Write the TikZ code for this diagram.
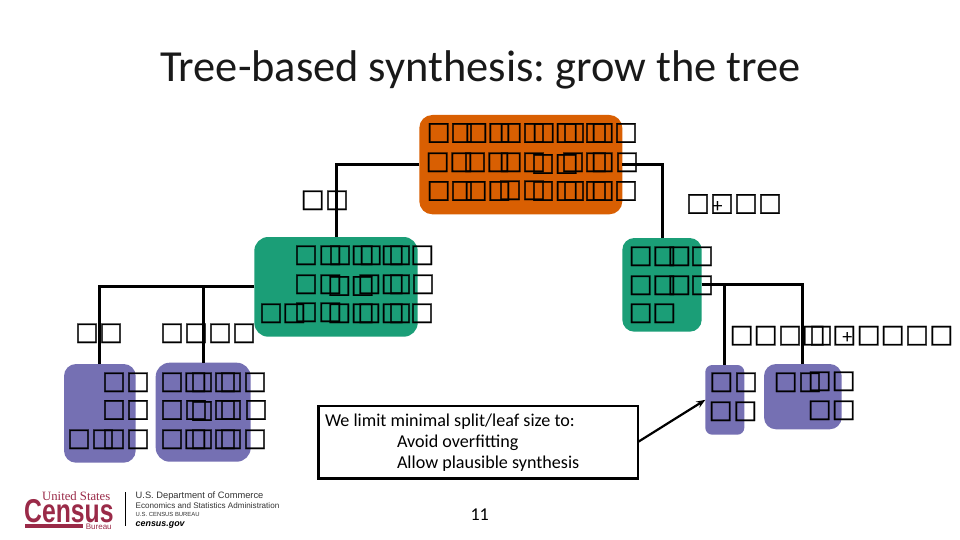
\documentclass[tikz,border=0pt]{standalone}
\usepackage{fontspec}
\usetikzlibrary{arrows.meta}
\setmainfont{Carlito}
\newfontfamily\tofufont[FakeBold=1]{DejaVu Sans}
\newfontfamily\logoserif{Liberation Serif}
\newfontfamily\logosans{Liberation Sans}
\definecolor{orangeN}{HTML}{D95F02}
\definecolor{greenN}{HTML}{1B9E77}
\definecolor{purpleN}{HTML}{7570B3}
\definecolor{censusred}{HTML}{9A2A48}
\definecolor{censusgray}{HTML}{333333}
\frenchspacing
\tikzset{
  x=1pt,y=-1pt,
  treebox/.style={rectangle,inner sep=0pt,outer sep=0pt,draw=none},
  link/.style={draw=black,line width=3pt},
  tofu/.style={inner sep=0pt,outer sep=0pt,font=\tofufont\fontsize{25.5}{25.5}\selectfont},
  plusmark/.style={inner sep=0pt,outer sep=0pt,font=\fontsize{20}{20}\selectfont},
  plain/.style={inner sep=0pt,outer sep=0pt,anchor=base west,text=black},
  notetext/.style={plain,font=\fontsize{18.1}{18.1}\selectfont},
  logoline/.style={inner sep=0pt,outer sep=0pt,anchor=base west,text=censusgray},
}
\newcommand{\tofurow}[2]{\foreach \cx/\cy [count=\ci] in {#2} {\node[tofu] (#1\ci) at (\cx,\cy) {□};}}
\begin{document}
\begin{tikzpicture}
\useasboundingbox (0,0) rectangle (960,540);
\fill[white] (0,0) rectangle (960,540);
\node[plain,text=black!90,font=\fontsize{44.4}{44.4}\selectfont] (title) at (160,82) {Tree-based synthesis: grow the tree};
% boxes
\node[treebox,fill=orangeN,rounded corners=13pt,minimum width=203pt,minimum height=99.3pt] (root) at (520.8,164.65) {};
\node[treebox,fill=greenN,rounded corners=14pt,minimum width=163.4pt,minimum height=99.7pt] (gl) at (336,286.85) {};
\node[treebox,fill=greenN,rounded corners=12pt,minimum width=79.4pt,minimum height=93.7pt] (gr) at (662,284.85) {};
\node[treebox,fill=purpleN,rounded corners=12pt,minimum width=71.7pt,minimum height=98.7pt] (pa) at (99.85,413.35) {};
\node[treebox,fill=purpleN,rounded corners=14pt,minimum width=95pt,minimum height=99pt] (pb) at (203.2,412.2) {};
\node[treebox,fill=purpleN,rounded corners=7pt,minimum width=39pt,minimum height=69.7pt] (pc) at (724.8,399.85) {};
\node[treebox,fill=purpleN,rounded corners=12pt,minimum width=77.7pt,minimum height=65.3pt] (pd) at (802.85,396.65) {};
% connectors
\draw[link] (root.west) -| (gl.north);
\draw[link] (root.east) -| (gr.north);
\draw[link] (gl.west) -| (pa.north);
\draw[link] (gl.west) -| (pb.north);
\draw[link] (gr.east) -| (pc.north);
\draw[link] (gr.east) -| (pd.north);
% note
\node[treebox,draw=black,line width=2.4pt,minimum width=319.4pt,minimum height=72.3pt] (note) at (478,442.15) {};
\draw[line width=2.2pt,-{Stealth[length=9pt,width=7pt]}] (note.east) -- (pc.west);
\node[notetext] (n1) at (325,426) {We limit minimal split/leaf size to:};
\node[notetext] (n2) at (397,447.5) {Avoid overfitting};
\node[notetext] (n3) at (397,468.5) {Allow plausible synthesis};
\node[notetext] (pg) at (470.5,520.5) {11};
% tofu text
\tofurow{ra}{438.7/133,462/133,476.3/133,499.3/133,510.7/133,534/133,543.7/133,566.7/133,574/133,596/133,602.7/133,626/133}
\tofurow{rb}{437.7/162.3,461.3/162.3,475/162.3,498.3/162.3,510.7/162.3,534/162.3,543/164,566.7/164,573/162.3,596/162.3,602.7/162.3,627/162.3}
\tofurow{rc}{438.7/191,462/191,475.7/191,499.3/191,510/190.3,534/190.3,543/191,566.7/191,574/191,596/191,602.7/191,626/191}
\tofurow{la}{312.7/200.3,337/200.3}
\tofurow{ga}{306/255.3,330.3/255.3,340/255.3,362.7/255.3,370.7/255.3,392.7/255.3,400/255.3,422.3/255.3}
\tofurow{gb}{306/284.3,330.3/284.3,339.3/286,362.7/286,369.3/284.3,392.7/284.3,400/284.3,423/284.3}
\tofurow{gc}{271/313.3,294.3/313.3,306/312.3,330.3/312.3,339.3/313.3,362.7/313.3,369.3/313.3,392.7/313.3,400/313.3,422/313.3}
\tofurow{ha}{640.7/256.3,664.3/256.3,679.3/256.3,702/256.3}
\tofurow{hb}{640.7/285.3,664.3/285.3,679.3/285.3,702/285.3}
\tofurow{hc}{640.7/313.3,664.3/313.3}
\tofurow{lb}{698/204,722/204,746/204,770/204}
\node[plusmark] (plusa) at (717.7,207) {+};
\tofurow{lc}{87/333.3,111/333.3}
\tofurow{ld}{172/333.3,196/333.3,220/333.3,244/333.3}
\tofurow{le}{741.7/335.7,765.7/335.7,790/335.7,813.7/335.7,821/335.7,844.3/335.7,868.7/335.7,892.7/335.7,917/335.7,941.3/335.7}
\node[plusmark] (plusb) at (847.3,338.3) {+};
\tofurow{pa}{114/382.3,138/382.3,114/410,138/410,79/439.3,103/439.3,114/439.3,138/439.3}
\tofurow{pb}{172/382.3,195.3/382.3,202/382.3,225/382.3,231/382.3,255/382.3,172/410,196/410,202/411,225/410,231/410,256/410,172/439.3,195.3/439.3,202/439.3,225/439.3,231/439.3,255/439.3}
\tofurow{pc}{721.3/382.3,746/382.3,720.7/411.3,745.3/411.3}
\tofurow{pd}{785.7/382.3,810/382.3,819.7/381.3,843.7/381.3,819.7/410.3,843.7/410.3}
% logo
\node[inner sep=0pt,anchor=base west,text=censusred,font=\logoserif\fontsize{12.7}{12.7}\selectfont] (ustates) at (42,500.5) {United States};
\node[inner sep=0pt,anchor=base west,text=censusred,xscale=0.75,font=\logosans\bfseries\fontsize{33}{33}\selectfont] (census) at (24,522) {Census};
\fill[censusred] (24.7,524.3) rectangle (83.3,527.7);
\node[inner sep=0pt,anchor=base west,text=censusred,font=\logosans\fontsize{8}{8}\selectfont] (bureau) at (85.7,529) {Bureau};
\draw[black,line width=0.8pt] (125.7,492.3) -- (125.7,525.7);
\node[logoline,font=\logosans\fontsize{9.3}{9.3}\selectfont] (d1) at (135.7,498.7) {U.S. Department of Commerce};
\node[logoline,font=\logosans\fontsize{8.1}{8.1}\selectfont] (d2) at (135.7,508) {Economics and Statistics Administration};
\node[logoline,font=\logosans\fontsize{5.9}{5.9}\selectfont] (d3) at (135.7,516.5) {U.S. CENSUS BUREAU};
\node[logoline,text=black,font=\logosans\bfseries\itshape\fontsize{8.9}{8.9}\selectfont] (d4) at (135.7,526.3) {census.gov};
\end{tikzpicture}
\end{document}
